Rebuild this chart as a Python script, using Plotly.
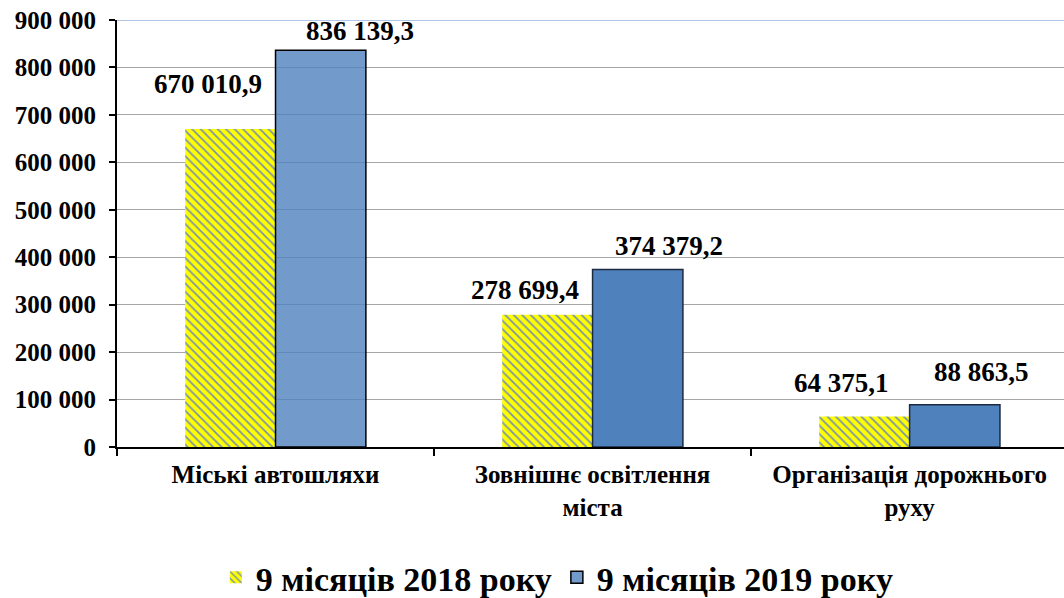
import plotly.graph_objects as go

categories = ["Міські автошляхи", "Зовнішнє освітлення<br>міста", "Організація дорожнього<br>руху"]
values_2018 = [670010.9, 278699.4, 64375.1]
values_2019 = [836139.3, 374379.2, 88863.5]
series_names = ["9 місяців 2018 року", "9 місяців 2019 року"]
y_ticks = [0, 100000, 200000, 300000, 400000, 500000, 600000, 700000, 800000, 900000]

FONT = "Liberation Serif"


def fmt(v):
    return f"{v:,.1f}".replace(",", " ").replace(".", ",")


fig = go.Figure()
fig.add_trace(go.Bar(
    x=categories, y=values_2018, name=series_names[0],
    marker=dict(
        color="#ffff00",
        line=dict(width=0),
        pattern=dict(shape="\\", bgcolor="#ffff00", fgcolor="#7d92ad",
                     size=6, solidity=0.3, fillmode="replace"),
    ),
))
fig.add_trace(go.Bar(
    x=categories, y=values_2019, name=series_names[1],
    marker=dict(
        color=["rgba(79,129,189,0.8)", "#4f81bd", "#4f81bd"],
        line=dict(color=["#000000", "#1c2a40", "#1c2a40"], width=1.5),
    ),
))

# data labels, offset a bit like in the original
for i, cat in enumerate(categories):
    fig.add_annotation(x=cat, y=values_2018[i], text=fmt(values_2018[i]),
                       xshift=-68, yshift=[28, 8, 16][i], yanchor="bottom",
                       showarrow=False)
    fig.add_annotation(x=cat, y=values_2019[i], text=fmt(values_2019[i]),
                       xshift=[84, 76, 72][i], yshift=[2, 6, 16][i], yanchor="bottom",
                       showarrow=False)

fig.add_shape(type="line", xref="paper", yref="y", x0=0, x1=1, y0=900000, y1=900000,
              line=dict(color="#95b3de", width=1.5))

fig.update_layout(
    width=1064, height=598,
    barmode="group", bargap=0.43, bargroupgap=0,
    separators=", ",
    plot_bgcolor="white", paper_bgcolor="white",
    margin=dict(l=117, r=0, t=20, b=151),
    font=dict(family=FONT, size=25, color="black", weight="bold"),
    legend=dict(orientation="h", x=0.465, xanchor="center", yref="container",
                y=0.034, yanchor="middle",
                font=dict(family=FONT, size=34, color="black", weight="bold")),
)
fig.update_annotations(font=dict(family=FONT, size=27, color="black", weight="bold"))
fig.update_xaxes(
    range=[-0.5, 2.487], showline=True, linecolor="black", linewidth=2, automargin=False,
    ticks="outside", tickson="boundaries", ticklen=7, tickwidth=2, tickcolor="black",
    ticklabelstandoff=4,
    tickfont=dict(family=FONT, size=25, weight="bold"),
)
fig.update_yaxes(
    range=[0, 900000], tickvals=y_ticks, tickformat=",d", automargin=False,
    showline=True, linecolor="black", linewidth=2,
    ticks="outside", ticklen=6, tickwidth=2, tickcolor="black",
    ticklabelstandoff=8,
    showgrid=True, gridcolor="#a6a6a6", gridwidth=1, zeroline=False,
    tickfont=dict(family=FONT, size=25, weight="bold"),
)

fig.write_html("out.html", config={"displayModeBar": False},
               post_script="document.body.style.margin='0';")
